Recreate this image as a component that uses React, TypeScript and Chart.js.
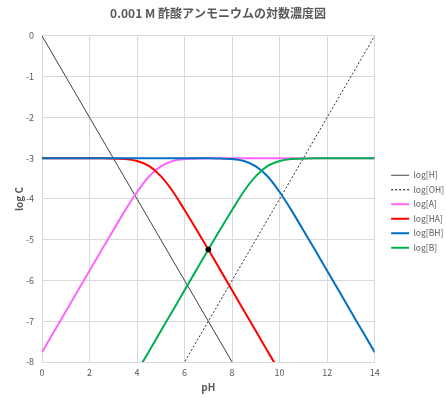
import React, { useEffect, useRef } from "react";
import { Chart, registerables } from "chart.js";
Chart.register(...registerables);

const pH = [0, 0.5, 1, 1.5, 2, 2.5, 3, 3.5, 4, 4.5, 5, 5.5, 6, 6.5, 7, 7.5, 8, 8.5, 9, 9.5, 10, 10.5, 11, 11.5, 12, 12.5, 13, 13.5, 14];
const logH = [0, -0.5, -1, -1.5, -2, -2.5, -3, -3.5, -4, -4.5, -5, -5.5, -6, -6.5, -7, -7.5, -8, -8.5, -9, -9.5, -10, -10.5, -11, -11.5, -12, -12.5, -13, -13.5, -14];
const logOH = [-14, -13.5, -13, -12.5, -12, -11.5, -11, -10.5, -10, -9.5, -9, -8.5, -8, -7.5, -7, -6.5, -6, -5.5, -5, -4.5, -4, -3.5, -3, -2.5, -2, -1.5, -1, -0.5, 0];
const logA = [-7.76, -7.26, -6.76, -6.26, -5.76, -5.26, -4.77, -4.28, -3.83, -3.45, -3.2, -3.07, -3.02, -3.01, -3, -3, -3, -3, -3, -3, -3, -3, -3, -3, -3, -3, -3, -3, -3];
const logHA = [-3, -3, -3, -3, -3, -3, -3.01, -3.02, -3.07, -3.19, -3.44, -3.81, -4.27, -4.75, -5.24, -5.74, -6.24, -6.74, -7.24, -7.74, -8.24, null, null, null, null, null, null, null, null];
const logBH = [-3, -3, -3, -3, -3, -3, -3, -3, -3, -3, -3, -3, -3, -3, -3, -3.01, -3.02, -3.07, -3.2, -3.45, -3.83, -4.28, -4.77, -5.26, -5.76, -6.26, -6.76, -7.26, -7.76];
const logB = [null, null, null, null, null, null, null, null, -8.24, -7.74, -7.24, -6.74, -6.24, -5.74, -5.24, -4.75, -4.27, -3.81, -3.44, -3.19, -3.07, -3.02, -3.01, -3, -3, -3, -3, -3, -3];
const dotPoint = { x: 7, y: -5.24 };

const names = ["log[H]", "log[OH]", "log[A]", "log[HA]", "log[BH]", "log[B]"];
const series = [logH, logOH, logA, logHA, logBH, logB];
const colors = ["#404040", "#303030", "#ff66ff", "#ff0000", "#0070c0", "#00b050"];
const widths = [1, 1, 2, 2, 2, 2];
const dashes = [[], [2, 2], [], [], [], []];

const gray = "#595959";
const font = "'Noto Sans CJK JP', 'Noto Sans', sans-serif";

export default function App() {
  const ref = useRef<HTMLCanvasElement>(null);
  useEffect(() => {
    document.body.style.margin = "0";
    const datasets: any[] = series.map((s, i) => ({
      label: names[i],
      data: s.map((v, j) => ({ x: pH[j], y: v })),
      borderColor: colors[i],
      backgroundColor: colors[i],
      borderWidth: widths[i],
      borderDash: dashes[i],
      pointRadius: 0,
      pointStyle: "line",
      cubicInterpolationMode: "monotone",
      spanGaps: false,
      order: 10 - i,
    }));
    datasets.push({
      label: "dot",
      data: [dotPoint],
      type: "scatter",
      pointRadius: 2.5,
      pointBackgroundColor: "#000",
      pointBorderColor: "#000",
      showLine: false,
      order: 0,
    });
    const baseLabels = (Chart as any).defaults.plugins.legend.labels.generateLabels;
    const chart = new Chart(ref.current!, {
      type: "line",
      data: { datasets },
      options: {
        animation: false,
        responsive: false,
        layout: { padding: { left: -18, right: -8, top: 4, bottom: 0 } },
        plugins: {
          tooltip: { enabled: false },
          title: {
            display: true,
            text: "0.001 M 酢酸アンモニウムの対数濃度図",
            color: gray,
            font: { family: font, size: 12, weight: "bold" },
            padding: { top: 2.5, bottom: 15 },
          },
          legend: {
            position: "right",
            title: { display: true, text: "", font: { size: 10 }, padding: 4 },
            labels: {
              generateLabels: (c: any) =>
                baseLabels(c).map((it: any) => {
                  const ds = c.data.datasets[it.datasetIndex];
                  return { ...it, lineDash: ds.borderDash, lineWidth: ds.borderWidth === 1 ? 1.2 : ds.borderWidth, strokeStyle: ds.borderColor };
                }),
              filter: (it: any) => it.text !== "dot",
              sort: (a: any, b: any) => a.datasetIndex - b.datasetIndex,
              usePointStyle: true,
              pointStyle: "line",
              pointStyleWidth: 18,
              boxWidth: 18,
              padding: 6,
              color: gray,
              font: { family: font, size: 8.5 },
            },
          },
        },
        scales: {
          x: {
            type: "linear",
            min: 0,
            max: 14,
            ticks: { stepSize: 2, color: gray, font: { family: font, size: 9 }, padding: 5.6 },
            grid: { color: "#d9d9d9", drawTicks: false },
            border: { color: "#d9d9d9" },
            title: { display: true, text: "pH", color: gray, font: { family: font, size: 10, weight: "bold" }, padding: { top: 0, bottom: 6 } },
            afterFit: (s: any) => { s.height = 37; },
          },
          y: {
            min: -8,
            max: 0,
            ticks: { stepSize: 1, color: gray, font: { family: font, size: 9 }, padding: 8 },
            grid: { color: "#d9d9d9", drawTicks: false },
            border: { color: "#d9d9d9" },
            title: { display: true, text: "log C", color: gray, font: { family: font, size: 10, weight: "bold" }, padding: { top: 31, bottom: 0 } },
            afterFit: (s: any) => { s.width = 60; },
          },
          y2: {
            position: "right",
            min: -8,
            max: 0,
            display: true,
            ticks: { display: false },
            grid: { display: false, drawTicks: false },
            border: { display: false },
            afterFit: (s: any) => { s.width = 10.5; },
          },
        },
      },
    });
    return () => chart.destroy();
  }, []);
  return (
    <div style={{ width: 446, height: 399 }}>
      <canvas ref={ref} width={446} height={399} style={{ width: 446, height: 399, display: "block" }} />
    </div>
  );
}
